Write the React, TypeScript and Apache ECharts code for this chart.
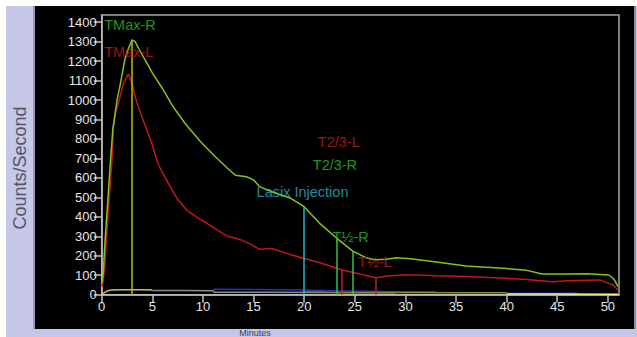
import React, { useEffect, useRef } from "react";
import * as echarts from "echarts";

// Axis ticks
const xTicks = [0, 5, 10, 15, 20, 25, 30, 35, 40, 45, 50];
const yTicks = [0, 100, 200, 300, 400, 500, 600, 700, 800, 900, 1000, 1100, 1200, 1300, 1400];

// Right kidney curve (minutes, counts/second)
const rightT = [0, 0.15, 0.3, 0.6, 0.82, 1.1, 1.54, 1.82, 2.3, 2.6, 3.0, 3.3, 3.7, 4.3, 5.0, 5.97, 7.0, 8.2, 9.7, 11.0, 12.4, 13.2, 14.3, 15.0, 15.6, 17.0, 18.6, 20.0, 21.5, 23.2, 24.8, 26.2, 27.0, 28.1, 29.1, 30.5, 32.7, 36.0, 40.0, 42.0, 43.5, 45.9, 48.0, 50.1, 50.6, 51.0];
const rightV = [60, 110, 250, 480, 655, 850, 1009, 1077, 1211, 1260, 1309, 1300, 1260, 1205, 1140, 1062, 970, 882, 790, 720, 651, 614, 606, 590, 555, 525, 497, 452, 368, 291, 224, 188, 180, 182, 190, 185, 170, 147, 134, 125, 106, 106, 108, 101, 80, 41];

// Left kidney curve
const leftT = [0, 0.15, 0.3, 0.65, 1.02, 1.15, 1.4, 1.73, 2.15, 2.64, 2.98, 3.4, 3.96, 4.95, 5.44, 5.77, 6.76, 7.5, 8.4, 9.5, 10.4, 11.5, 12.35, 13.66, 14.5, 15.6, 16.6, 16.9, 18.6, 19.9, 21.5, 23.2, 23.75, 25.5, 27.1, 28.0, 29.7, 31.1, 33.0, 36.0, 40.0, 42.0, 44.5, 46.0, 49.2, 50.5, 51.0];
const leftV = [40, 70, 150, 435, 692, 863, 940, 1000, 1087, 1134, 1088, 1000, 915, 778, 692, 650, 555, 490, 435, 395, 367, 330, 302, 284, 265, 233, 238, 236, 207, 187, 165, 136, 127, 106, 87, 95, 101, 101, 97, 93, 84, 78, 67, 72, 76, 50, 24];

// Background curves near zero
const bgYellowT = [0, 0.3, 0.6, 1, 2, 3, 4, 5];
const bgYellowV = [0, 12, 20, 24, 26, 25, 25, 24];
const bgGrayT = [5, 8, 11, 11.1, 16, 22, 26, 29];
const bgGrayV = [22, 21, 20, 12, 12, 11, 10, 10];
const bgBlueT = [11, 15, 20, 23, 28, 33];
const bgBlueV = [28, 27, 24, 20, 17, 15];
const bgOliveT = [20, 22, 29, 35, 40];
const bgOliveV = [14, 13, 11, 10, 10];
const bgBlue2T = [40, 44, 47];
const bgBlue2V = [8, 8, 7];
const bgBrightT = [40, 45, 51];
const bgBrightV = [3, 3, 2];

// Marker lines: time and top value
const markerNames = ["TMax", "Lasix", "T½-R a", "T½-R b", "T½-L a", "T½-L b"];
const markerT = [3.0, 20.0, 23.2, 24.8, 23.75, 27.1];
const markerV = [1305, 452, 291, 224, 127, 87];

// Annotations
const annotationNames = ["TMax-R", "TMax-L", "T2/3-L", "T2/3-R", "Lasix Injection", "T½-R", "T½-L"];
const annotationT = [0.25, 0.25, 21.35, 20.85, 15.3, 22.8, 25.3];
const annotationV = [1385, 1245, 785, 666, 527, 296, 168];

const GREEN = "#86c21e";
const RED = "#c01818";
const LGREEN = "#22c222";
const LRED = "#cc1a1a";
const CYAN = "#22b4c4";
const FONT = "'Liberation Sans', Arial, sans-serif";

const markerColors: Record<string, string> = {
  "TMax": "#b8bc22",
  "Lasix": CYAN,
  "T½-R a": "#3cc03c",
  "T½-R b": "#3cc03c",
  "T½-L a": "#c02020",
  "T½-L b": "#c02020",
};
const annotationColors: Record<string, string> = {
  "TMax-R": LGREEN,
  "TMax-L": LRED,
  "T2/3-L": LRED,
  "T2/3-R": LGREEN,
  "Lasix Injection": CYAN,
  "T½-R": LGREEN,
  "T½-L": LRED,
};

const zip = (t: number[], v: number[]) => t.map((x, i) => [x, v[i]]);

function lineSeries(name: string, t: number[], v: number[], color: string, width = 1.5) {
  return {
    name,
    type: "line",
    data: zip(t, v),
    showSymbol: false,
    symbol: "none",
    lineStyle: { color, width },
    itemStyle: { color },
    z: 3,
  };
}

export default function App() {
  const ref = useRef<HTMLDivElement>(null);
  useEffect(() => {
    if (!ref.current) return;
    const chart = echarts.init(ref.current, undefined, { renderer: "svg" });
    const option: any = {
      animation: false,
      backgroundColor: "#ffffff",
      textStyle: { fontFamily: FONT },
      graphic: [
        { type: "rect", z: -30, shape: { x: 6, y: 6, width: 631, height: 331 }, style: { fill: "#c6c6e6" } },
        { type: "rect", z: -10, shape: { x: 35, y: 6, width: 599, height: 323 }, style: { fill: "#000000" } },
        { type: "rect", z: -10, shape: { x: 33, y: 6, width: 2, height: 323 }, style: { fill: "#9a9ab8" } },
        { type: "rect", z: -10, shape: { x: 634, y: 6, width: 2, height: 323 }, style: { fill: "#8a8a98" } },
        {
          type: "text", z: -5, x: 255, y: 337,
          style: { text: "Minutes", fill: "#404050", font: `9px ${FONT}`, textAlign: "center", textVerticalAlign: "bottom" },
        },
        {
          type: "text", z: -5, x: 20, y: 168, rotation: Math.PI / 2,
          style: { text: "Counts/Second", fill: "#555566", font: `18px ${FONT}`, textAlign: "center", textVerticalAlign: "middle" },
        },
      ],
      grid: {
        left: 101.7,
        right: 18,
        top: 15,
        bottom: 42.3,
        show: true,
        borderColor: "#a4a4a4",
        borderWidth: 1.5,
        backgroundColor: "transparent",
      },
      xAxis: {
        type: "value",
        min: 0,
        max: 51.1,
        splitLine: { show: false },
        axisLine: { show: true, lineStyle: { color: "#c0c0c0", width: 1.5 } },
        axisTick: { show: true, customValues: xTicks, length: 8, lineStyle: { color: "#c0c0c0", width: 1.5 } },
        axisLabel: { customValues: xTicks, color: "#e6e6e6", fontSize: 13, margin: 5, fontFamily: FONT, formatter: (v: number) => String(v) },
      },
      yAxis: {
        type: "value",
        min: 0,
        max: 1437,
        splitLine: { show: false },
        axisLine: { show: true, lineStyle: { color: "#c0c0c0", width: 1.5 } },
        axisTick: { show: true, customValues: yTicks, length: 8, lineStyle: { color: "#c0c0c0", width: 1.5 } },
        axisLabel: { customValues: yTicks, color: "#e6e6e6", fontSize: 13, margin: 5, fontFamily: FONT, formatter: (v: number) => String(v) },
      },
      series: [
        lineSeries("bgYellow", bgYellowT, bgYellowV, "#c8c040"),
        lineSeries("bgGray", bgGrayT, bgGrayV, "#8c8c8c"),
        lineSeries("bgBlue", bgBlueT, bgBlueV, "#2030c8"),
        lineSeries("bgOlive", bgOliveT, bgOliveV, "#908830"),
        lineSeries("bgBlue2", bgBlue2T, bgBlue2V, "#2030e0"),
        lineSeries("bgBright", bgBrightT, bgBrightV, "#f0f070"),
        lineSeries("Left", leftT, leftV, RED),
        lineSeries("Right", rightT, rightV, GREEN),
        {
          name: "markers",
          type: "line",
          data: [],
          z: 4,
          markLine: {
            silent: true,
            symbol: ["none", "none"],
            label: { show: false },
            data: markerNames.map((n, i) => [
              { coord: [markerT[i], 0], lineStyle: { color: markerColors[n], width: 1.5, type: "solid" } },
              { coord: [markerT[i], markerV[i]] },
            ]),
          },
        },
        {
          name: "annotations",
          type: "scatter",
          symbolSize: 0,
          z: 5,
          data: annotationNames.map((n, i) => ({
            name: n,
            value: [annotationT[i], annotationV[i]],
            label: {
              show: true,
              formatter: n,
              position: [0, 0],
              align: "left",
              verticalAlign: "middle",
              color: annotationColors[n],
              fontSize: 14.5,
              fontFamily: FONT,
            },
          })),
        },
      ],
    };
    chart.setOption(option);
    return () => chart.dispose();
  }, []);
  return <div ref={ref} style={{ position: "fixed", left: 0, top: 0, width: 637, height: 337 }} />;
}
